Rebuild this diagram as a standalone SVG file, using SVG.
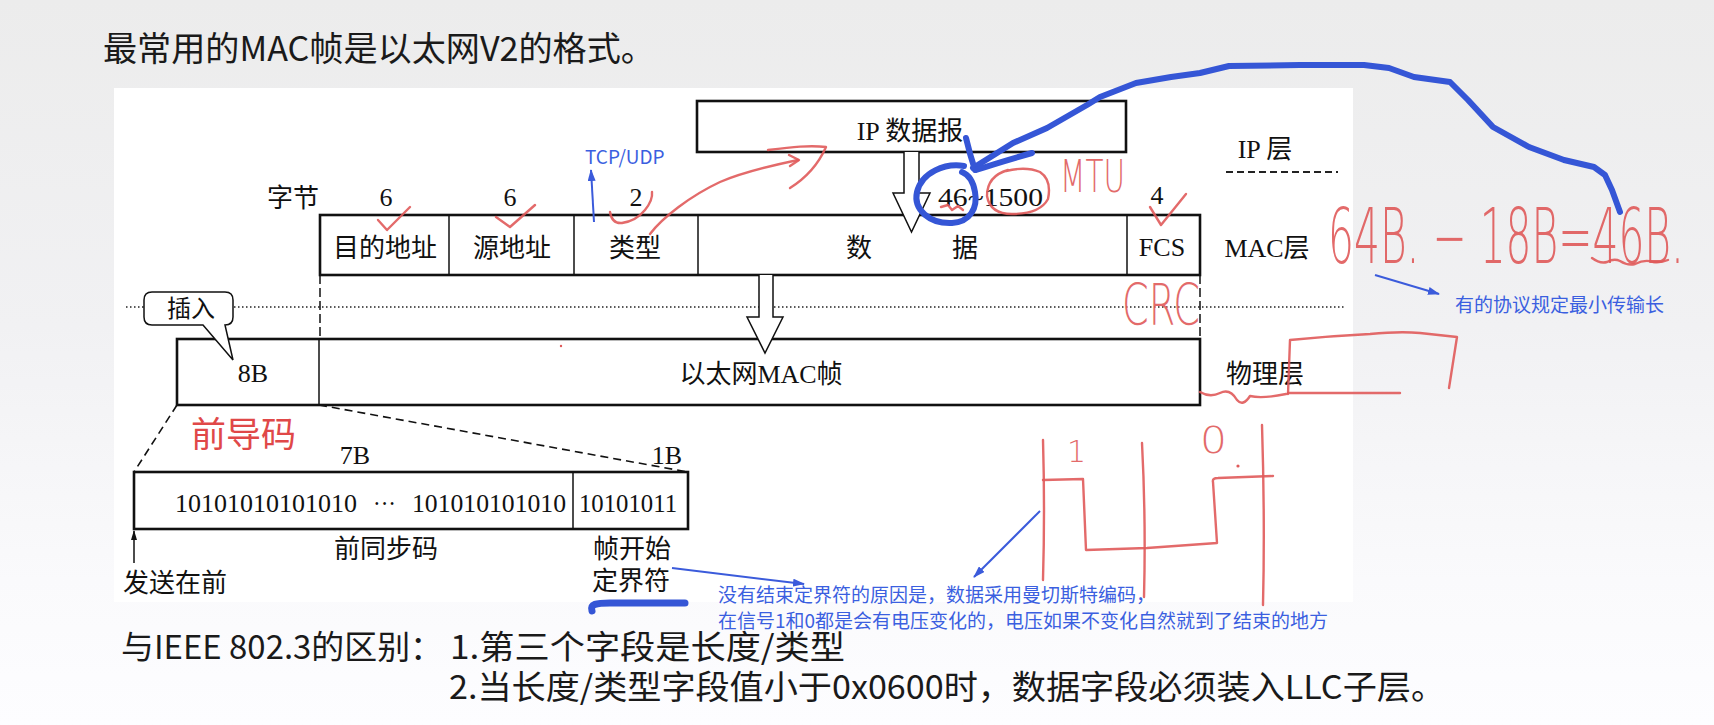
<svg xmlns="http://www.w3.org/2000/svg" width="1714" height="725" viewBox="0 0 1714 725">
  <defs>
    <linearGradient id="bg" x1="0" y1="0" x2="0" y2="1">
      <stop offset="0" stop-color="#ececec"/>
      <stop offset="0.45" stop-color="#f1f1f3"/>
      <stop offset="0.8" stop-color="#fafafc"/>
      <stop offset="1" stop-color="#fdfdff"/>
    </linearGradient>
    <marker id="bh" viewBox="0 0 12 8" refX="11" refY="4" markerWidth="12" markerHeight="8" markerUnits="userSpaceOnUse" orient="auto">
      <path d="M0,0 L12,4 L0,8 z" fill="#3b5bdb"/>
    </marker>
    <marker id="kh" viewBox="0 0 10 6" refX="9" refY="3" markerWidth="10" markerHeight="6" markerUnits="userSpaceOnUse" orient="auto">
      <path d="M0,0 L10,3 L0,6 z" fill="#111"/>
    </marker>
  </defs>
  <style>
    .box { fill: #fff; stroke: #111; stroke-width: 2.6; }
    .div { stroke: #111; stroke-width: 1.5; }
    .t { font-family: 'Liberation Serif', 'Noto Sans CJK SC', serif; font-size: 26px; fill: #111; }
    .c { text-anchor: middle; }
    .head { font-family: 'Noto Sans CJK SC', sans-serif; font-size: 34px; fill: #1a1a1a; }
    .note { font-family: 'Noto Sans CJK SC', sans-serif; font-size: 19px; fill: #3b5fe0; }
    .red { fill: none; stroke: #e05a5a; stroke-width: 2.4; stroke-linecap: round; stroke-linejoin: round; opacity: 0.9; }
    .redt { font-family: 'DejaVu Sans', sans-serif; font-weight: 200; fill: #e05a5a; opacity: 0.9; }
    .blue { fill: none; stroke: #3556d6; stroke-width: 6; stroke-linecap: round; stroke-linejoin: round; }
    .bl { fill: none; stroke: #3b5bdb; stroke-width: 2; }
    .arrow { fill: #fff; stroke: #111; stroke-width: 1.5; }
  </style>

  <!-- page background and figure panel -->
  <rect x="0" y="0" width="1714" height="725" fill="url(#bg)"/>
  <rect x="114" y="88" width="1239" height="514" fill="#fff"/>

  <text class="head" x="103" y="61" textLength="552" lengthAdjust="spacingAndGlyphs">最常用的MAC帧是以太网V2的格式。</text>

  <!-- layer separators and guide lines -->
  <g id="connectors">
    <line x1="126" y1="307" x2="1346" y2="307" stroke="#222" stroke-width="1.6" stroke-dasharray="1.5 2.5"/>
    <line x1="1226" y1="172" x2="1338" y2="172" stroke="#222" stroke-width="1.8" stroke-dasharray="7 4"/>
    <line x1="320" y1="275" x2="320" y2="339" stroke="#111" stroke-width="1.5" stroke-dasharray="9 4"/>
    <line x1="1200" y1="275" x2="1200" y2="339" stroke="#111" stroke-width="1.5" stroke-dasharray="9 4"/>
    <line x1="177" y1="405" x2="134" y2="472" stroke="#111" stroke-width="1.6" stroke-dasharray="8 5"/>
    <line x1="319" y1="405" x2="688" y2="472" stroke="#111" stroke-width="1.6" stroke-dasharray="8 5"/>
    <line x1="134" y1="563" x2="134" y2="531" stroke="#111" stroke-width="1.5" marker-end="url(#kh)"/>
  </g>

  <!-- IP layer -->
  <g id="ip-datagram">
    <rect class="box" x="697" y="101" width="429" height="51"/>
    <text class="t c" x="910" y="140">IP 数据报</text>
  </g>
  <g id="ip-layer-label">
    <text class="t c" x="1265" y="158">IP 层</text>
  </g>

  <!-- MAC frame fields -->
  <g id="mac-frame">
    <rect class="box" x="320" y="215" width="880" height="60"/>
    <line class="div" x1="449" y1="215" x2="449" y2="275"/>
    <line class="div" x1="574" y1="215" x2="574" y2="275"/>
    <line class="div" x1="698" y1="215" x2="698" y2="275"/>
    <line class="div" x1="1127" y1="215" x2="1127" y2="275"/>
    <text class="t c" x="385" y="257">目的地址</text>
    <text class="t c" x="512" y="257">源地址</text>
    <text class="t c" x="635" y="257">类型</text>
    <text class="t c" x="859" y="257">数</text>
    <text class="t c" x="965" y="257">据</text>
    <text class="t c" x="1162" y="256">FCS</text>
  </g>
  <g id="byte-counts">
    <text class="t c" x="293" y="207">字节</text>
    <text class="t c" x="386" y="206">6</text>
    <text class="t c" x="510" y="206">6</text>
    <text class="t c" x="636" y="206">2</text>
    <text class="t" x="938" y="206" textLength="105" lengthAdjust="spacingAndGlyphs">46~1500</text>
    <text class="t c" x="1157" y="204">4</text>
  </g>
  <g id="mac-layer-label">
    <text class="t c" x="1267" y="257">MAC层</text>
  </g>

  <!-- physical layer frame -->
  <g id="phy-frame">
    <rect class="box" x="177" y="339" width="1023" height="66"/>
    <line class="div" x1="319" y1="339" x2="319" y2="405"/>
    <text class="t c" x="253" y="382">8B</text>
    <text class="t c" x="761" y="383">以太网MAC帧</text>
  </g>
  <g id="phy-layer-label">
    <text class="t c" x="1265" y="383">物理层</text>
  </g>

  <!-- downward encapsulation arrows -->
  <g id="down-arrows">
    <path class="arrow" d="M904,152 V193 H893 L911.5,232 L930,193 H919 V152"/>
    <path class="arrow" d="M759,275 V317 H747 L765,353 L783,317 H773 V275"/>
  </g>

  <!-- insertion callout -->
  <g id="insert-callout">
    <path d="M152,292 H225 Q233,292 233,300 V317 Q233,325 225,325 L233,360 L203,325 H152 Q144,325 144,317 V300 Q144,292 152,292 Z" fill="#fff" stroke="#111" stroke-width="1.5"/>
    <text class="t c" x="191" y="317" style="font-size:24px">插入</text>
  </g>

  <!-- preamble detail -->
  <g id="preamble">
    <rect class="box" x="134" y="472" width="554" height="57"/>
    <line class="div" x1="573" y1="472" x2="573" y2="529"/>
    <text class="t c" x="355" y="464">7B</text>
    <text class="t c" x="667" y="464">1B</text>
    <text class="t" x="175" y="512" textLength="182" lengthAdjust="spacingAndGlyphs">10101010101010</text>
    <text class="t" x="373" y="512" textLength="23" lengthAdjust="spacingAndGlyphs">···</text>
    <text class="t" x="412" y="512" textLength="154" lengthAdjust="spacingAndGlyphs">101010101010</text>
    <text class="t" x="579" y="512" textLength="98" lengthAdjust="spacingAndGlyphs">10101011</text>
    <text class="t c" x="386" y="558">前同步码</text>
    <text class="t c" x="632" y="558">帧开始</text>
    <text class="t c" x="631" y="590">定界符</text>
    <text class="t c" x="175" y="592">发送在前</text>
  </g>

  <!-- comparison with IEEE 802.3 -->
  <g id="footnote">
    <text class="head" x="121" y="659" style="font-size:33px" textLength="322" lengthAdjust="spacingAndGlyphs">与IEEE 802.3的区别：</text>
    <text class="head" x="450" y="659" style="font-size:33px" textLength="395" lengthAdjust="spacingAndGlyphs">1.第三个字段是长度/类型</text>
    <text class="head" x="449" y="699" style="font-size:33px" textLength="996" lengthAdjust="spacingAndGlyphs">2.当长度/类型字段值小于0x0600时，数据字段必须装入LLC子层。</text>
  </g>

  <!-- red pen marks -->
  <g id="red-ink">
    <path class="red" d="M378,220 L387,230 L410,207"/>
    <path class="red" d="M496,217 L510,227 L535,205"/>
    <path class="red" d="M610,212 Q612,224 622,223 Q636,221 645,210 Q653,200 652,192"/>
    <path class="red" d="M1150,207 L1161,225 L1186,194"/>
    <path class="red" d="M650,234 C662,218 690,196 720,182 C746,171 774,165 798,160"/>
    <path class="red" d="M789,155 L799,160 L790,166"/>
    <path class="red" d="M768,150 C792,147 810,145 826,147 C818,165 806,178 790,188"/>
    <path class="red" d="M941,207 L948,205 L952,210 L958,206 L963,210"/>
    <path class="red" d="M1008,170 Q987,176 987,196 Q990,214 1012,214 Q1040,214 1048,199 Q1052,180 1040,172 Q1026,166 1006,171"/>
    <path class="red" d="M1592,258 Q1600,264 1607,262 Q1614,258 1620,261 Q1628,266 1635,264 Q1645,259 1653,262 Q1661,263 1668,260"/>
    <path class="red" d="M1200,392 Q1210,398 1220,393 Q1230,388 1237,400 Q1243,407 1250,396 Q1262,399 1286,394"/>
    <path class="red" d="M1288,394 L1290,340 Q1330,336 1370,334 Q1400,331 1420,333 L1457,337 L1449,388"/>
    <path class="red" d="M1288,393 L1400,393"/>
    <path class="red" d="M1043,440 Q1045,510 1043,580"/>
    <path class="red" d="M1142,443 Q1146,520 1144,597"/>
    <path class="red" d="M1262,425 Q1265,520 1263,605"/>
    <path class="red" d="M1043,480 L1083,479 L1086,550 L1147,548 L1217,543 L1213,482 Q1212,478 1218,478 L1273,476"/>
    <circle cx="1238" cy="466" r="1.6" fill="#e05a5a"/>
    <circle cx="561" cy="346" r="1.2" fill="#e05a5a"/>
    <!-- tall, narrow hand lettering: a small font stretched vertically -->
    <text class="redt" transform="translate(1060,192) scale(1,1.5)" x="0" y="0" style="font-size:30px" textLength="65" lengthAdjust="spacingAndGlyphs">MTU</text>
    <text class="redt" transform="translate(1122,325) scale(1,1.55)" x="0" y="0" style="font-size:37px" textLength="78" lengthAdjust="spacingAndGlyphs">CRC</text>
    <text class="redt" transform="translate(1328,263) scale(1,1.9)" x="0" y="0" style="font-size:40px" textLength="356" lengthAdjust="spacingAndGlyphs">64B. − 18B=46B.</text>
    <text class="redt" x="1067" y="462" style="font-size:30px">1</text>
    <text class="redt" x="1200" y="453" style="font-size:38px" textLength="27" lengthAdjust="spacingAndGlyphs">0</text>
    <text x="191" y="447" style="font-family:'Noto Sans CJK SC',sans-serif;font-size:35px;fill:#e04848">前导码</text>
  </g>

  <!-- blue pen marks and notes -->
  <g id="blue-ink">
    <path class="blue" d="M1620,212 L1612,190 L1605,175 L1594,167 L1564,160 L1529,147 L1493,127 L1468,100 L1450,82 L1414,77 L1389,68 L1364,65 L1300,65 L1229,66 L1200,73 L1171,77 L1136,83 L1100,97 L1087,105 L1047,128 L1013,143 L973,168"/>
    <path class="blue" d="M966,138 Q970,155 975,170"/>
    <path class="blue" d="M1032,153 Q1000,162 976,170"/>
    <path class="blue" d="M964,166 C945,163 922,172 917,192 C913,210 930,224 952,223 C970,222 978,208 975,192 C973,180 967,174 962,172"/>
    <path class="blue" style="stroke-width:7" d="M592,611 C590,604 596,603 610,603 L685,603"/>
    <line class="bl" x1="594" y1="222" x2="591" y2="170" marker-end="url(#bh)"/>
    <line class="bl" x1="672" y1="568" x2="804" y2="584" marker-end="url(#bh)"/>
    <line class="bl" x1="1040" y1="511" x2="974" y2="577" marker-end="url(#bh)"/>
    <line class="bl" x1="1375" y1="275" x2="1439" y2="294" marker-end="url(#bh)"/>
    <text class="note" x="585" y="164">TCP/UDP</text>
    <text class="note" x="1455" y="312">有的协议规定最小传输长</text>
    <text class="note" x="718" y="602">没有结束定界符的原因是，数据采用曼切斯特编码，</text>
    <text class="note" x="718" y="628">在信号1和0都是会有电压变化的，电压如果不变化自然就到了结束的地方</text>
  </g>
</svg>
